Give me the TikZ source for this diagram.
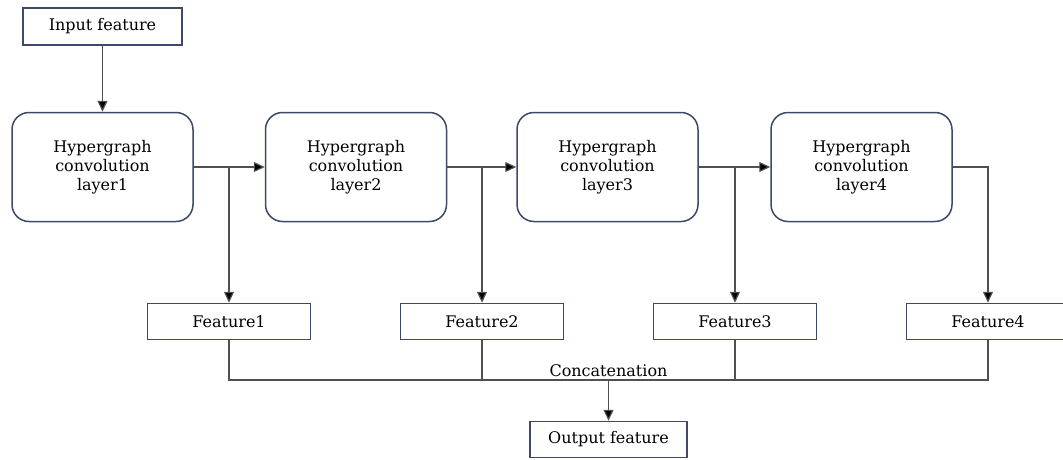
\documentclass[tikz,border=0pt]{standalone}
\usepackage{fontspec}
\setmainfont{DejaVu Serif}
\usepackage{tikz}
\usetikzlibrary{arrows.meta}

\definecolor{boxline}{RGB}{62,72,104}
\definecolor{wire}{RGB}{80,80,80}

\begin{document}
\begin{tikzpicture}[x=1pt,y=-1pt,
  font=\fontsize{16}{19}\selectfont,
  plain/.style = {draw=boxline, line width=1.5pt, inner sep=0pt, fill=white},
  layer/.style = {plain, rounded corners=17pt, minimum width=181pt, minimum height=109pt, align=center},
  feat/.style = {plain, minimum width=163pt, minimum height=36pt},
  link/.style = {draw=wire, line width=1.2pt},
  arr/.style = {link, -{Triangle[length=11pt,width=10pt,fill=black]}}]
\useasboundingbox (0,0) rectangle (1063,459);
\begin{scope}
\clip (0,0) rectangle (1063,459);
\node[plain, minimum width=159pt, minimum height=37pt] (in) at (102.5,26.5) {Input feature};
\node[layer] (h1) at (102.5,167) {Hypergraph\\convolution\\layer1};
\node[layer] (h2) at (356,167) {Hypergraph\\convolution\\layer2};
\node[layer] (h3) at (607.5,167) {Hypergraph\\convolution\\layer3};
\node[layer] (h4) at (861.5,167) {Hypergraph\\convolution\\layer4};
\node[feat] (f1) at (229,321.5) {Feature1};
\node[feat] (f2) at (482,321.5) {Feature2};
\node[feat] (f3) at (735,321.5) {Feature3};
\node[feat] (f4) at (988,321.5) {Feature4};
\node[plain, minimum width=157pt, minimum height=36pt] (out) at (608.5,439.5) {Output feature};
\coordinate (b1) at (229,167);
\coordinate (b2) at (482,167);
\coordinate (b3) at (735,167);
\coordinate (c) at (608.5,380);
\node[above=0pt] (cat) at (c) {Concatenation};
\draw[arr] (in) -- (h1);
\draw[arr] (h1) -- (h2);
\draw[arr] (h2) -- (h3);
\draw[arr] (h3) -- (h4);
\draw[arr] (b1) -- (f1);
\draw[arr] (b2) -- (f2);
\draw[arr] (b3) -- (f3);
\draw[arr] (h4.east) -| (f4);
\draw[link] (f1.south) |- (c) -| (f4.south);
\draw[link] (f2.south) -- (f2.south |- c);
\draw[link] (f3.south) -- (f3.south |- c);
\draw[arr] (c) -- (out);
\end{scope}
\end{tikzpicture}
\end{document}
